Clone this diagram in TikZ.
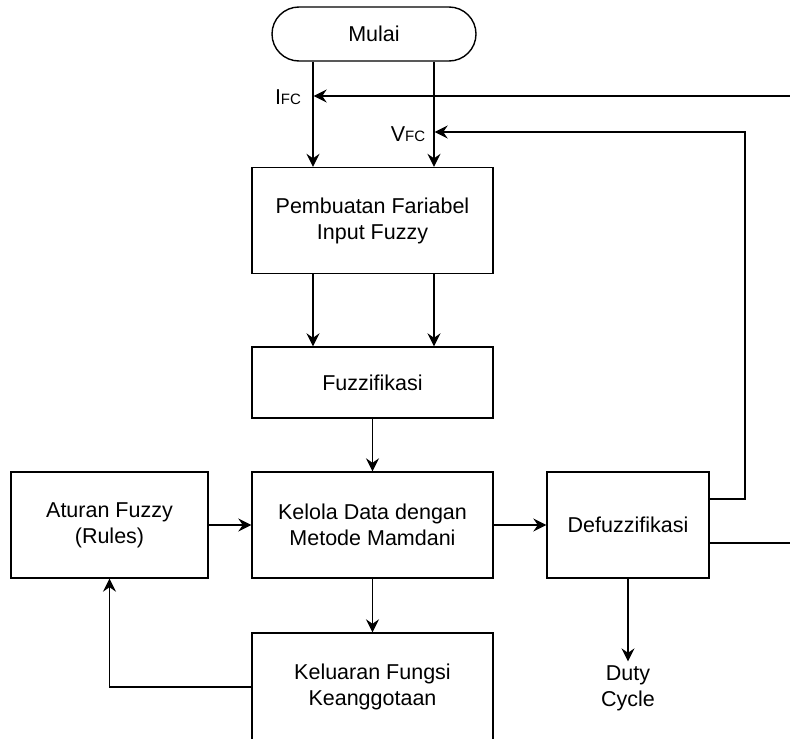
\documentclass[tikz,border=0pt]{standalone}
\usepackage{fontspec}
\setmainfont{Liberation Sans}
\usetikzlibrary{arrows.meta}

\begin{document}
\begin{tikzpicture}[x=1pt,y=-1pt,line width=1.4pt,
  every node/.style={font=\fontsize{21.5}{26}\selectfont},
  box/.style={draw,minimum width=241pt,minimum height=106pt,align=center,inner sep=0pt},
  term/.style={draw,rounded corners=27pt,minimum width=204pt,minimum height=54pt,inner sep=0pt},
  arr/.style={-{Stealth[length=13pt,width=13pt,inset=4.5pt]}}]
\useasboundingbox (0,0) rectangle (790,739);
%
\node[term] (M) at (374,34) {Mulai};
\node[box] (P) at (372.5,220.5) {Pembuatan Fariabel\\Input Fuzzy};
\node[box,minimum height=71pt] (F) at (372.5,382.5) {Fuzzifikasi};
\node[box] (K) at (372.5,525) {Kelola Data dengan\\Metode Mamdani};
\node[box,minimum width=197pt] (A) at (109.5,525) {Aturan Fuzzy\\(Rules)};
\node[box,minimum width=162pt] (D) at (628,525) {Defuzzifikasi};
\node[box,minimum height=108pt] (O) at (372.5,687) {Keluaran Fungsi\\Keanggotaan};
\node[align=center] (DC) at (628,688) {Duty\\Cycle};
\node (IL) at (288,97) {I{\fontsize{15}{15}\selectfont FC}};
\node (VL) at (408,134) {V{\fontsize{15}{15}\selectfont FC}};
%
\coordinate (xa) at (313,0);
\coordinate (xb) at (434,0);
\coordinate (E1) at (790,96);
\coordinate (E2) at (790,543);
\coordinate (R) at (745,132);
%
\draw[arr] (M.south -| xa) -- (P.north -| xa);
\draw[arr] (M.south -| xb) -- (P.north -| xb);
\draw[arr] (P.south -| xa) -- (F.north -| xa);
\draw[arr] (P.south -| xb) -- (F.north -| xb);
\draw[arr] (F) -- (K);
\draw[arr] (K) -- (O);
\draw[arr] (A) -- (K);
\draw[arr] (K) -- (D);
\draw[arr] (D) -- (DC);
\draw[arr] (O.west) -| (A.south);
\draw[arr,shorten >=0.7pt] (E1) -- (E1 -| xa);
\draw[arr,shorten >=0.7pt] ([yshift=26pt]D.east) -| (R) -- (R -| xb);
\draw ([yshift=-18pt]D.east) -- (E2);
\end{tikzpicture}
\end{document}
